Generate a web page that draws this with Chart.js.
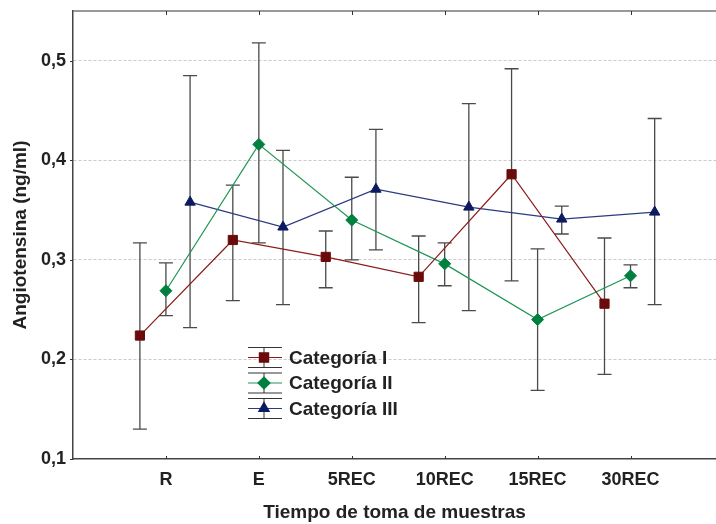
<!DOCTYPE html>
<html>
<head>
<meta charset="utf-8">
<script src="https://cdn.jsdelivr.net/npm/chart.js@4"></script>
<style>
  html, body { margin: 0; padding: 0; background: #fff; }
  #wrap { width: 716px; height: 524px; }
</style>
</head>
<body>
<div id="wrap"><canvas id="myChart" width="716" height="524"></canvas></div>
<script>
const categories = ['R', 'E', '5REC', '10REC', '15REC', '30REC'];
const yTicks = [0.1, 0.2, 0.3, 0.4, 0.5];

const cat1Mean = [0.224, 0.320, 0.303, 0.283, 0.386, 0.256];
const cat1Low  = [0.130, 0.259, 0.272, 0.237, 0.279, 0.185];
const cat1High = [0.317, 0.375, 0.329, 0.324, 0.492, 0.322];

const cat2Mean = [0.269, 0.416, 0.340, 0.296, 0.240, 0.284];
const cat2Low  = [0.244, 0.317, 0.300, 0.274, 0.169, 0.272];
const cat2High = [0.297, 0.518, 0.383, 0.317, 0.311, 0.295];

const cat3Mean = [0.358, 0.333, 0.371, 0.353, 0.341, 0.348];
const cat3Low  = [0.232, 0.255, 0.310, 0.249, 0.326, 0.255];
const cat3High = [0.485, 0.410, 0.431, 0.457, 0.354, 0.442];

const seriesNames = ['Categoría I', 'Categoría II', 'Categoría III'];

const textColor = '#222';
const axisColor = '#444';

// horizontal shift of each series inside a category
const shifts = [-0.28, 0, 0.26];

function pts(values, k) {
  return values.map((v, i) => ({ x: i + 1 + shifts[k], y: v }));
}

const series = [
  { mean: cat1Mean, low: cat1Low, high: cat1High, line: '#8a1c1c', fill: '#6b0a0a', style: 'rect', r: 6.5 },
  { mean: cat2Mean, low: cat2Low, high: cat2High, line: '#1e9654', fill: '#00803f', style: 'rectRot', r: 6 },
  { mean: cat3Mean, low: cat3Low, high: cat3High, line: '#2b3b82', fill: '#0c1a60', style: 'triangle', r: 6 }
];

// error bars drawn through the scales
const errorBars = {
  id: 'errorBars',
  beforeDatasetsDraw(chart) {
    const ctx = chart.ctx;
    const xs = chart.scales.x, ys = chart.scales.y;
    ctx.save();
    ctx.strokeStyle = '#4a4a4a';
    ctx.lineWidth = 1.3;
    series.forEach((s, k) => {
      s.mean.forEach((m, i) => {
        const x = xs.getPixelForValue(i + 1 + shifts[k]);
        const yl = ys.getPixelForValue(s.low[i]);
        const yh = ys.getPixelForValue(s.high[i]);
        ctx.beginPath();
        ctx.moveTo(x, yl); ctx.lineTo(x, yh);
        ctx.moveTo(x - 7, yl); ctx.lineTo(x + 7, yl);
        ctx.moveTo(x - 7, yh); ctx.lineTo(x + 7, yh);
        ctx.stroke();
      });
    });
    ctx.restore();
  },
  afterDraw(chart) {
    const ctx = chart.ctx;
    const a = chart.chartArea;
    const xs = chart.scales.x, ys = chart.scales.y;
    ctx.save();
    // top frame line
    ctx.strokeStyle = '#777';
    ctx.lineWidth = 1.5;
    ctx.beginPath();
    ctx.moveTo(a.left, a.top); ctx.lineTo(a.right, a.top);
    ctx.stroke();
    // small tick marks
    ctx.strokeStyle = '#333';
    ctx.lineWidth = 1;
    ctx.beginPath();
    categories.forEach((c, i) => {
      const x = Math.round(xs.getPixelForValue(i + 1)) + 0.5;
      ctx.moveTo(x, a.top); ctx.lineTo(x, a.top + 4);
      ctx.moveTo(x, a.bottom); ctx.lineTo(x, a.bottom - 3);
    });
    yTicks.forEach(v => {
      const y = Math.round(ys.getPixelForValue(v)) + 0.5;
      ctx.moveTo(a.left, y); ctx.lineTo(a.left - 3, y);
    });
    ctx.stroke();

    // legend inside the plot
    const lx = 248, ly = 357.5, step = 25.5;
    series.forEach((s, k) => {
      const y = ly + k * step;
      ctx.strokeStyle = '#333';
      ctx.lineWidth = 1;
      ctx.beginPath();
      ctx.moveTo(lx + 16, y - 10); ctx.lineTo(lx + 16, y + 10);
      ctx.moveTo(lx, y - 10); ctx.lineTo(lx + 34, y - 10);
      ctx.moveTo(lx, y + 10); ctx.lineTo(lx + 34, y + 10);
      ctx.stroke();
      ctx.strokeStyle = s.line;
      ctx.lineWidth = 1.2;
      ctx.beginPath();
      ctx.moveTo(lx, y); ctx.lineTo(lx + 34, y);
      ctx.stroke();
      ctx.fillStyle = s.fill;
      ctx.strokeStyle = s.fill;
      Chart.helpers.drawPoint(ctx, { pointStyle: s.style, radius: s.r, borderWidth: 1 }, lx + 16, y);
      ctx.fillStyle = textColor;
      ctx.font = 'bold 19px "Liberation Sans", Arial, sans-serif';
      ctx.textBaseline = 'middle';
      ctx.textAlign = 'left';
      ctx.fillText(seriesNames[k], lx + 41, y + 1);
    });
    ctx.restore();
  }
};

const ctx = document.getElementById('myChart').getContext('2d');
const myChart = new Chart(ctx, {
  type: 'line',
  data: {
    datasets: series.map((s, k) => ({
      label: seriesNames[k],
      data: pts(s.mean, k),
      borderColor: s.line,
      borderWidth: 1.2,
      backgroundColor: s.fill,
      pointBackgroundColor: s.fill,
      pointBorderColor: s.fill,
      pointStyle: s.style,
      pointRadius: s.r,
      pointBorderWidth: 1,
      tension: 0
    }))
  },
  options: {
    responsive: false,
    animation: false,
    layout: { autoPadding: false, padding: { top: 11, right: 0, left: 0, bottom: 0 } },
    scales: {
      x: {
        type: 'linear',
        min: 0,
        max: 6.92,
        afterBuildTicks: axis => { axis.ticks = categories.map((c, i) => ({ value: i + 1 })); },
        afterFit: axis => {
          axis.height = 65;
          axis.paddingLeft = 0; axis.paddingRight = 0;
        },
        grid: { display: false, drawTicks: false },
        border: { color: axisColor, width: 1.5 },
        ticks: {
          padding: 10,
          color: textColor,
          font: { family: '"Liberation Sans", Arial, sans-serif', size: 18, weight: 'bold' },
          callback: (v) => categories[Math.round(v) - 1] || ''
        },
        title: {
          display: true,
          text: 'Tiempo de toma de muestras',
          color: textColor,
          padding: { top: 0, bottom: 0 },
          font: { family: '"Liberation Sans", Arial, sans-serif', size: 19, weight: 'bold' }
        }
      },
      y: {
        min: 0.1,
        max: 0.55,
        afterBuildTicks: axis => { axis.ticks = yTicks.map(v => ({ value: v })); },
        afterFit: axis => {
          axis.width = 73;
          axis.paddingTop = 0; axis.paddingBottom = 0;
        },
        grid: {
          drawTicks: false,
          color: ctx2 => ctx2.tick && ctx2.tick.value === 0.1 ? 'rgba(0,0,0,0)' : '#cacaca',
          lineWidth: 1
        },
        border: { color: axisColor, width: 1.5, dash: [3, 2] },
        ticks: {
          padding: 7,
          color: textColor,
          font: { family: '"Liberation Sans", Arial, sans-serif', size: 18, weight: 'bold' },
          callback: v => v.toFixed(1).replace('.', ',')
        },
        title: {
          display: true,
          text: 'Angiotensina (ng/ml)',
          color: textColor,
          padding: { top: 9, bottom: 0 },
          font: { family: '"Liberation Sans", Arial, sans-serif', size: 19, weight: 'bold' }
        }
      }
    },
    plugins: {
      legend: { display: false },
      tooltip: { enabled: false }
    }
  },
  plugins: [errorBars]
});
</script>
</body>
</html>
